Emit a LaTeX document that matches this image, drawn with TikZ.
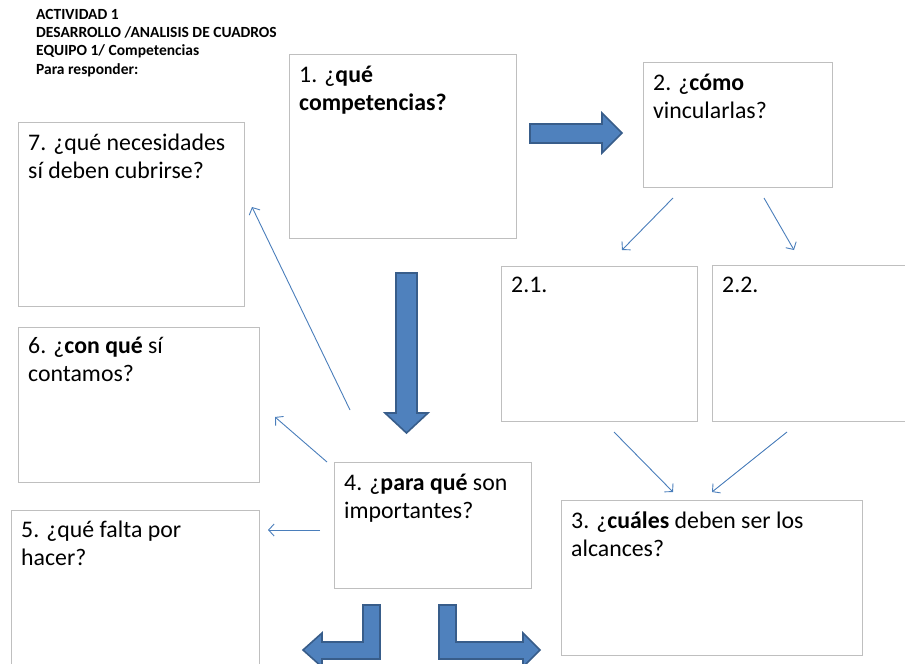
\documentclass[tikz,border=0pt]{standalone}
\usepackage{fontspec}
\setmainfont{Carlito}
\usetikzlibrary{arrows.meta,positioning}
\definecolor{boxgray}{HTML}{BFBFBF}
\definecolor{arrfill}{HTML}{4F81BD}
\definecolor{arrline}{HTML}{385D8A}
\definecolor{linkblue}{HTML}{4A7EBB}
\tikzset{
  qbox/.style={draw=boxgray, line width=1.3pt, anchor=north west, inner sep=0pt},
  % base of a multi-line node is its last line
  qtext/.style={anchor=base west, inner sep=0pt, align=left,
    font=\fontsize{23.8}{28}\selectfont},
  link/.style={linkblue, line width=0.9pt, -{Straight Barb[length=5.5pt,width=12pt]}},
  block/.style={fill=arrfill, draw=arrline, line width=1.6pt, line join=miter},
}

\begin{document}
\begin{tikzpicture}[x=1pt, y=-1pt]
  \useasboundingbox (0,0) rectangle (905,664);
  \clip (0,0) rectangle (905,664);
  % heading in the upper-left corner
  \node[anchor=base west, inner sep=0pt, align=left,
    font=\bfseries\fontsize{15.5}{18.2}\selectfont] (head) at (36,74)
    {ACTIVIDAD 1\\DESARROLLO /ANALISIS DE CUADROS\\EQUIPO 1/ Competencias\\Para responder:};
  % question boxes
  \node[qbox, minimum width=227, minimum height=184] (box1) at (289,54) {};
  \node[qbox, minimum width=189, minimum height=125] (box2) at (643,62) {};
  \node[qbox, minimum width=196, minimum height=155] (box21) at (501,266) {};
  \node[qbox, minimum width=220, minimum height=156] (box22) at (712,265) {};
  \node[qbox, minimum width=301, minimum height=155] (box3) at (561,500) {};
  \node[qbox, minimum width=197, minimum height=126] (box4) at (334,462) {};
  \node[qbox, minimum width=248, minimum height=200] (box5) at (11,510) {};
  \node[qbox, minimum width=241, minimum height=155] (box6) at (18,327) {};
  \node[qbox, minimum width=226, minimum height=184] (box7) at (18,122) {};
  \node[qtext] (txt1) at (299,110) {1. ¿\textbf{qué}\\\textbf{competencias?}};
  \node[qtext] (txt2) at (653,118) {2. ¿\textbf{cómo}\\vincularlas?};
  \node[qtext] (txt21) at (511,292) {2.1.};
  \node[qtext] (txt22) at (722,292) {2.2.};
  \node[qtext] (txt3) at (571,556) {3. ¿\textbf{cuáles} deben ser los\\alcances?};
  \node[qtext] (txt4) at (344,518) {4. ¿\textbf{para qué} son\\importantes?};
  \node[qtext] (txt5) at (21,565) {5. ¿qué falta por\\hacer?};
  \node[qtext] (txt6) at (28,381) {6. ¿\textbf{con qué} sí\\contamos?};
  \node[qtext] (txt7) at (28,178) {7. ¿qué necesidades\\sí deben cubrirse?};
  % block arrows
  \draw[block] (530,124) -- (602,124) -- (602,113) -- (622,133) -- (602,153)
    -- (602,143) -- (530,143) -- cycle;
  \draw[block] (396,273) -- (417,273) -- (417,413) -- (428,413) -- (406.5,433)
    -- (385,413) -- (396,413) -- cycle;
  \draw[block] (363,605) -- (380,605) -- (380,659) -- (322,659) -- (322,667)
    -- (303,650) -- (322,633) -- (322,642) -- (363,642) -- cycle;
  \draw[block] (439,605) -- (456,605) -- (456,642) -- (523,642) -- (523,633)
    -- (540,650) -- (523,667) -- (523,659) -- (439,659) -- cycle;
  % thin connectors, free ends
  \coordinate (l2a) at (673,198);  \coordinate (l2b) at (622,250);
  \coordinate (l2c) at (764,198);  \coordinate (l2d) at (794,250);
  \coordinate (l21) at (614,432);  \coordinate (l3a) at (673,492);
  \coordinate (l22) at (787,432);  \coordinate (l3b) at (712,492);
  \coordinate (l4a) at (320,530);  \coordinate (l5) at (268,530);
  \coordinate (l4b) at (327,462);  \coordinate (l6) at (275,417);
  \coordinate (l4c) at (350,410);  \coordinate (l7) at (252,207);
  \draw[link] (l2a) -- (l2b);
  \draw[link] (l2c) -- (l2d);
  \draw[link] (l21) -- (l3a);
  \draw[link] (l22) -- (l3b);
  \draw[link] (l4a) -- (l5);
  \draw[link] (l4b) -- (l6);
  \draw[link] (l4c) -- (l7);
\end{tikzpicture}
\end{document}
